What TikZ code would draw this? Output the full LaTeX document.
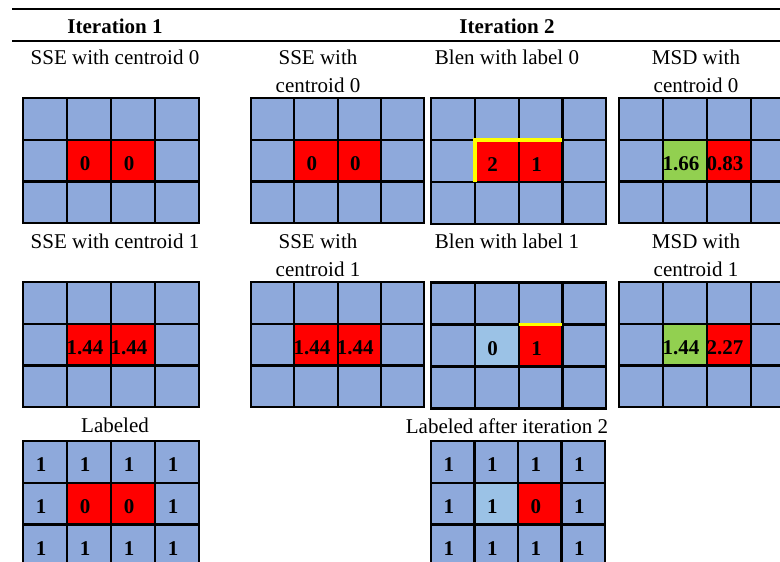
\documentclass[tikz,border=0pt]{standalone}
\usepackage{fontspec}
\setmainfont{Liberation Serif}
\definecolor{cellblue}{HTML}{8EA9DB}
\definecolor{cellred}{HTML}{FF0000}
\definecolor{cellgreen}{HTML}{92D050}
\definecolor{celllight}{HTML}{9BC2E6}
\definecolor{hiyellow}{HTML}{FFFF00}
\newcommand\mkgrid[5]{%
  \foreach \r in {0,1,2}{\foreach \c in {0,1,2,3}{%
    \node[cell, minimum width=#4pt, minimum height=#5pt] (#1-\r-\c) at ({#2+(\c+0.5)*#4},{#3+(\r+0.5)*#5}) {};}}}
\newcommand\mkborders[1]{%
  \foreach \r in {0,1,2}{\foreach \c in {0,1,2,3}{%
    \draw[cellline] (#1-\r-\c.north west) rectangle (#1-\r-\c.south east);}}}
\newcommand\paint[2]{\fill[#2] (#1.north west) rectangle (#1.south east);}
\newcommand\val[2]{\node[valtext] (#1-v) at ([shift={(-4pt,-10pt)}]#1.center) {#2};}
\begin{document}
\begin{tikzpicture}[x=1pt,y=-1pt,
  cell/.style={fill=cellblue, inner sep=0pt, outer sep=0pt},
  cellline/.style={draw=black, line width=2.2pt},
  valtext/.style={anchor=base, inner sep=0pt, font=\fontsize{21}{28}\selectfont\bfseries},
  head/.style={anchor=base, inner sep=0pt, font=\fontsize{21}{28}\selectfont\bfseries},
  lab/.style={anchor=base, inner sep=0pt, font=\fontsize{21}{28}\selectfont},
  rulestyle/.style={draw=black, line width=2pt},
  hiline/.style={draw=hiyellow, line width=3.5pt}]
\useasboundingbox (0,0) rectangle (780,562);
\clip (0,0) rectangle (780,562);
% rules
\coordinate (r1a) at (12,9); \coordinate (r1b) at (780,9);
\coordinate (r2a) at (12,41); \coordinate (r2b) at (780,41);
\draw[rulestyle] (r1a) -- (r1b);
\draw[rulestyle] (r2a) -- (r2b);
% headers
\node[head] (h1) at (115,34) {Iteration 1};
\node[head] (h2) at (507,34) {Iteration 2};
% labels
\node[lab] (l1) at (115,64) {SSE with centroid 0};
\node[lab] (l2a) at (318,64) {SSE with};
\node[lab] (l2b) at (318,92) {centroid 0};
\node[lab] (l3) at (507,64) {Blen with label 0};
\node[lab] (l4a) at (696,64) {MSD with};
\node[lab] (l4b) at (696,92) {centroid 0};
\node[lab] (l5) at (115,248) {SSE with centroid 1};
\node[lab] (l6a) at (318,248) {SSE with};
\node[lab] (l6b) at (318,276) {centroid 1};
\node[lab] (l7) at (507,248) {Blen with label 1};
\node[lab] (l8a) at (696,248) {MSD with};
\node[lab] (l8b) at (696,276) {centroid 1};
\node[lab] (l9) at (115,432) {Labeled};
\node[lab] (l10) at (507,433) {Labeled after iteration 2};
% grids (fills)
\mkgrid{IA}{23}{98}{44}{41.7}
\mkgrid{IB}{23}{282}{44}{41.7}
\mkgrid{IC}{23}{441}{44}{41.7}
\mkgrid{SA}{251}{98}{43.3}{41.7}
\mkgrid{SB}{251}{282}{43.3}{41.7}
\mkgrid{BA}{431}{98}{43.8}{42}
\mkgrid{BB}{431}{282.5}{43.8}{42}
\mkgrid{MA}{619}{98}{44}{41.7}
\mkgrid{MB}{619}{282}{44}{41.7}
\mkgrid{LA}{431}{441}{43.5}{41.7}
% coloured cells
\paint{IA-1-1}{cellred}\paint{IA-1-2}{cellred}
\paint{IB-1-1}{cellred}\paint{IB-1-2}{cellred}
\paint{IC-1-1}{cellred}\paint{IC-1-2}{cellred}
\paint{SA-1-1}{cellred}\paint{SA-1-2}{cellred}
\paint{SB-1-1}{cellred}\paint{SB-1-2}{cellred}
\paint{BA-1-1}{cellred}\paint{BA-1-2}{cellred}
\paint{BB-1-1}{celllight}\paint{BB-1-2}{cellred}
\paint{MA-1-1}{cellgreen}\paint{MA-1-2}{cellred}
\paint{MB-1-1}{cellgreen}\paint{MB-1-2}{cellred}
\paint{LA-1-1}{celllight}\paint{LA-1-2}{cellred}
% borders
\mkborders{IA}\mkborders{IB}\mkborders{IC}
\mkborders{SA}\mkborders{SB}
\mkborders{BA}\mkborders{BB}
\mkborders{MA}\mkborders{MB}
\mkborders{LA}
% yellow borders
\draw[hiline] (BA-1-1.south west) -- (BA-1-1.north west) -- (BA-1-2.north east);
\draw[hiline] (BB-1-2.north west) -- (BB-1-2.north east);
% values
\val{IA-1-1}{0}\val{IA-1-2}{0}
\val{IB-1-1}{1.44}\val{IB-1-2}{1.44}
\val{SA-1-1}{0}\val{SA-1-2}{0}
\val{SB-1-1}{1.44}\val{SB-1-2}{1.44}
\val{BA-1-1}{2}\val{BA-1-2}{1}
\val{BB-1-1}{0}\val{BB-1-2}{1}
\val{MA-1-1}{1.66}\val{MA-1-2}{0.83}
\val{MB-1-1}{1.44}\val{MB-1-2}{2.27}
\foreach \r/\c/\t in {0/0/1,0/1/1,0/2/1,0/3/1,1/0/1,1/1/0,1/2/0,1/3/1,2/0/1,2/1/1,2/2/1,2/3/1}{\val{IC-\r-\c}{\t}}
\foreach \r/\c/\t in {0/0/1,0/1/1,0/2/1,0/3/1,1/0/1,1/1/1,1/2/0,1/3/1,2/0/1,2/1/1,2/2/1,2/3/1}{\val{LA-\r-\c}{\t}}
\end{tikzpicture}
\end{document}
